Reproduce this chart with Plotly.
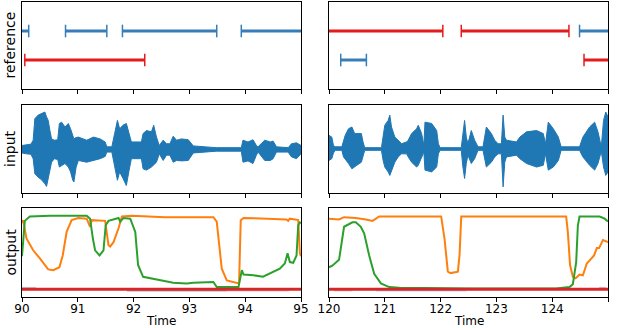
import plotly.graph_objects as go
from plotly.subplots import make_subplots

# --- reference segments (top row) ---
left_ref_start = [89.6, 90.78, 91.80, 93.93, 90.05]
left_ref_end = [90.12, 91.52, 93.49, 95.5, 92.20]
left_ref_row = [2, 2, 2, 2, 1]
left_ref_cls = ["b", "b", "b", "b", "r"]

right_ref_start = [119.5, 122.37, 124.49, 120.21, 124.57]
right_ref_end = [122.04, 124.30, 125.5, 120.67, 125.5]
right_ref_row = [2, 2, 2, 1, 1]
right_ref_cls = ["r", "r", "b", "b", "r"]

# --- input waveform envelope (middle row) ---
left_wave_t = [90.00, 90.08, 90.16, 90.20, 90.23, 90.29, 90.35, 90.41, 90.44, 90.47,
               90.50, 90.53, 90.58, 90.64, 90.67, 90.71, 90.77, 90.83, 90.87, 90.91,
               90.93, 90.97, 91.01, 91.16, 91.28, 91.40, 91.49, 91.52, 91.61, 91.66,
               91.71, 91.75, 91.81, 91.87, 91.92, 91.96, 92.14, 92.17, 92.23, 92.32,
               92.36, 92.41, 92.46, 92.53, 92.59, 92.65, 92.71, 92.77, 92.86, 92.98,
               93.07, 93.48, 93.93, 93.96, 94.05, 94.14, 94.20, 94.23, 94.35, 94.45,
               94.50, 94.56, 94.77, 94.83, 94.92, 95.00]
left_wave_up = [0.08, 0.10, 0.11, 0.20, 0.69, 0.77, 0.80, 0.84, 0.73, 0.65,
                0.42, 0.23, 0.20, 0.21, 0.58, 0.61, 0.50, 0.58, 0.46, 0.27,
                0.23, 0.26, 0.27, 0.20, 0.27, 0.23, 0.16, 0.05, 0.05, 0.35,
                0.65, 0.46, 0.54, 0.58, 0.35, 0.16, 0.16, 0.35, 0.42, 0.39,
                0.54, 0.27, 0.08, 0.20, 0.12, 0.12, 0.29, 0.20, 0.23, 0.21,
                0.07, 0.03, 0.03, 0.20, 0.16, 0.21, 0.08, 0.05, 0.20, 0.16,
                0.18, 0.05, 0.03, 0.12, 0.14, 0.08]
left_wave_lo = [-0.09, -0.11, -0.12, -0.22, -0.56, -0.64, -0.70, -0.79, -0.85, -0.67,
                -0.48, -0.30, -0.22, -0.24, -0.41, -0.37, -0.33, -0.41, -0.52, -0.71,
                -0.75, -0.41, -0.26, -0.30, -0.26, -0.22, -0.17, -0.07, -0.07, -0.41,
                -0.71, -0.52, -0.67, -0.83, -0.48, -0.22, -0.22, -0.45, -0.48, -0.41,
                -0.37, -0.30, -0.11, -0.26, -0.14, -0.14, -0.30, -0.26, -0.27, -0.26,
                -0.09, -0.05, -0.05, -0.30, -0.27, -0.33, -0.14, -0.07, -0.26, -0.26,
                -0.22, -0.07, -0.07, -0.18, -0.22, -0.11]

right_wave_t = [120.00, 120.05, 120.08, 120.11, 120.23, 120.26, 120.29, 120.35, 120.41, 120.46,
                120.50, 120.58, 120.61, 120.64, 120.94, 120.97, 121.00, 121.06, 121.09, 121.12,
                121.18, 121.24, 121.30, 121.39, 121.42, 121.48, 121.57, 121.60, 121.66, 121.70,
                121.72, 121.84, 121.93, 121.96, 121.99, 122.37, 122.40, 122.43, 122.46, 122.49,
                122.55, 122.61, 122.67, 122.76, 122.82, 122.91, 122.97, 123.03, 123.09, 123.12,
                123.15, 123.18, 123.36, 123.42, 123.54, 123.72, 123.84, 123.88, 123.93, 124.02,
                124.11, 124.16, 124.49, 124.55, 124.67, 124.76, 124.82, 124.88, 124.92, 124.96,
                125.00]
right_wave_up = [0.31, 0.27, 0.08, 0.05, 0.05, 0.20, 0.31, 0.46, 0.50, 0.35,
                 0.35, 0.35, 0.16, 0.03, 0.03, 0.35, 0.54, 0.65, 0.77, 0.50,
                 0.27, 0.20, 0.12, 0.16, 0.20, 0.35, 0.46, 0.54, 0.35, 0.08,
                 0.61, 0.58, 0.42, 0.12, 0.03, 0.03, 0.42, 0.65, 0.27, 0.12,
                 0.42, 0.20, 0.05, 0.05, 0.50, 0.35, 0.20, 0.12, 0.12, 0.77,
                 0.27, 0.20, 0.16, 0.27, 0.39, 0.42, 0.35, 0.12, 0.61, 0.46,
                 0.27, 0.05, 0.05, 0.27, 0.50, 0.61, 0.39, 0.05, 0.65, 0.84,
                 0.73]
right_wave_lo = [-0.26, -0.22, -0.09, -0.03, -0.03, -0.18, -0.22, -0.33, -0.45, -0.41,
                 -0.37, -0.30, -0.14, -0.03, -0.03, -0.26, -0.41, -0.52, -0.60, -0.52,
                 -0.30, -0.18, -0.11, -0.11, -0.18, -0.30, -0.41, -0.37, -0.18, -0.07,
                 -0.48, -0.52, -0.41, -0.11, -0.03, -0.03, -0.41, -0.67, -0.33, -0.14,
                 -0.33, -0.22, -0.03, -0.03, -0.41, -0.30, -0.18, -0.11, -0.11, -0.86,
                 -0.30, -0.18, -0.14, -0.22, -0.33, -0.41, -0.37, -0.11, -0.48, -0.41,
                 -0.26, -0.03, -0.03, -0.18, -0.37, -0.48, -0.33, -0.05, -0.41, -0.60,
                 -0.52]

# --- output curves (bottom row) ---
left_orange_t = [90.00, 90.02, 90.08, 90.20, 90.32, 90.47, 90.56, 90.67, 90.73, 90.80,
                 90.89, 91.01, 91.16, 91.22, 91.25, 91.49, 91.55, 91.58, 91.64, 91.73,
                 91.79, 91.97, 92.56, 93.43, 93.49, 93.58, 93.67, 93.85, 93.89, 93.92,
                 93.97, 94.74, 94.77, 94.80, 94.95, 94.98, 95.00]
left_orange_v = [0.90, 0.94, 0.69, 0.53, 0.42, 0.27, 0.26, 0.30, 0.46, 0.78,
                 0.94, 0.97, 0.96, 0.85, 0.94, 0.93, 0.60, 0.58, 0.64, 0.83,
                 0.99, 1.00, 0.98, 0.98, 0.92, 0.28, 0.12, 0.08, 0.08, 0.94,
                 0.97, 0.95, 0.93, 0.96, 0.94, 0.49, 0.45]
left_green_t = [90.00, 90.01, 90.05, 90.14, 90.50, 91.16, 91.22, 91.27, 91.31, 91.39,
                91.46, 91.50, 91.55, 91.73, 91.76, 91.82, 91.94, 92.03, 92.08, 92.17,
                92.35, 92.47, 92.71, 92.95, 93.07, 93.43, 93.49, 93.88, 93.94, 93.97,
                94.15, 94.32, 94.44, 94.62, 94.71, 94.76, 94.80, 94.86, 94.92, 94.95,
                94.98, 95.00]
left_green_v = [0.45, 0.56, 0.93, 0.99, 1.00, 1.00, 0.96, 0.69, 0.53, 0.46,
                0.53, 0.87, 0.93, 0.97, 0.92, 0.97, 0.96, 0.78, 0.33, 0.17,
                0.14, 0.13, 0.09, 0.08, 0.09, 0.10, 0.03, 0.03, 0.26, 0.20,
                0.19, 0.17, 0.21, 0.28, 0.35, 0.49, 0.37, 0.36, 0.46, 0.87,
                0.91, 0.90]
right_orange_t = [120.00, 120.18, 120.27, 120.48, 120.66, 120.78, 120.90, 122.01, 122.07, 122.13,
                  122.18, 122.31, 122.34, 122.37, 124.25, 124.28, 124.32, 124.37, 124.42, 124.49,
                  124.55, 124.62, 124.68, 124.75, 124.80, 124.84, 124.91, 124.97, 125.00]
right_orange_v = [0.96, 0.95, 0.98, 0.97, 0.95, 0.93, 0.99, 0.99, 0.69, 0.24,
                  0.22, 0.24, 0.47, 0.99, 0.99, 0.78, 0.33, 0.17, 0.15, 0.20,
                  0.19, 0.35, 0.40, 0.46, 0.56, 0.56, 0.67, 0.65, 0.64]
right_green_t = [120.00, 120.06, 120.18, 120.23, 120.27, 120.42, 120.48, 120.57, 120.63, 120.72,
                 120.81, 120.93, 121.08, 121.26, 122.50, 124.07, 124.31, 124.37, 124.43, 124.46,
                 124.49, 124.67, 124.85, 124.94, 125.00]
right_green_v = [0.30, 0.32, 0.40, 0.69, 0.85, 0.91, 0.91, 0.85, 0.76, 0.46,
                 0.21, 0.08, 0.03, 0.02, 0.01, 0.01, 0.03, 0.07, 0.37, 0.87,
                 0.99, 0.99, 0.99, 0.96, 0.92]

# faint bands just around zero
left_faint_blue = [(90.00, 90.25, 0.02), (91.88, 93.67, -0.015)]
left_faint_red = [(91.88, 94.78, -0.015)]
right_faint_blue = [(120.84, 122.46, -0.015), (124.84, 124.96, 0.02)]
right_faint_red = [(120.09, 120.42, -0.015)]

SEG_COLORS = {"b": "#377eb8", "r": "#e41a1c"}
BLUE, ORANGE, GREEN, RED = "#1f77b4", "#ff7f0e", "#2ca02c", "#d62728"

fig = make_subplots(rows=3, cols=2)


def add_segments(col, starts, ends, rows, classes):
    for s, e, r, c in zip(starts, ends, rows, classes):
        fig.add_trace(go.Scatter(
            x=[s, e], y=[r, r], mode="lines+markers",
            line=dict(color=SEG_COLORS[c], width=3),
            marker=dict(symbol="line-ns", size=9,
                        line=dict(width=1.5, color=SEG_COLORS[c])),
            showlegend=False), row=1, col=col)


def add_wave(col, t, up, lo):
    fig.add_trace(go.Scatter(
        x=t + t[::-1], y=up + lo[::-1], mode="lines", fill="toself",
        fillcolor=BLUE, line=dict(color=BLUE, width=1),
        showlegend=False), row=2, col=col)


def add_outputs(col, ot, ov, gt, gv, fblue, fred, x0, x1):
    for s, e, v in fblue:
        fig.add_trace(go.Scatter(x=[s, e], y=[v, v], mode="lines",
                                 line=dict(color="rgba(31,119,180,0.3)", width=2),
                                 showlegend=False), row=3, col=col)
    for s, e, v in fred:
        fig.add_trace(go.Scatter(x=[s, e], y=[v, v], mode="lines",
                                 line=dict(color="rgba(214,39,40,0.3)", width=2),
                                 showlegend=False), row=3, col=col)
    fig.add_trace(go.Scatter(x=ot, y=ov, mode="lines",
                             line=dict(color=ORANGE, width=2), showlegend=False),
                  row=3, col=col)
    fig.add_trace(go.Scatter(x=gt, y=gv, mode="lines",
                             line=dict(color=GREEN, width=2), showlegend=False),
                  row=3, col=col)
    fig.add_trace(go.Scatter(x=[x0, x1], y=[0, 0], mode="lines",
                             line=dict(color=RED, width=3), showlegend=False),
                  row=3, col=col)


add_segments(1, left_ref_start, left_ref_end, left_ref_row, left_ref_cls)
add_segments(2, right_ref_start, right_ref_end, right_ref_row, right_ref_cls)
add_wave(1, left_wave_t, left_wave_up, left_wave_lo)
add_wave(2, right_wave_t, right_wave_up, right_wave_lo)
add_outputs(1, left_orange_t, left_orange_v, left_green_t, left_green_v,
            left_faint_blue, left_faint_red, 90, 95)
add_outputs(2, right_orange_t, right_orange_v, right_green_t, right_green_v,
            right_faint_blue, right_faint_red, 120, 125)

W, H = 618, 328
xdom = [[22 / W, 301 / W], [329 / W, 608 / W]]
ydom = [[1 - 89 / H, 1 - 2 / H], [1 - 193 / H, 1 - 105 / H], [1 - 297 / H, 1 - 208 / H]]
yranges = [[0, 3], [-1, 1], [-0.105, 1.105]]
xranges = [[90, 95], [120, 125]]

axis_style = dict(showline=True, linecolor="black", linewidth=1, mirror=True,
                  showgrid=False, zeroline=False)

for r in range(3):
    for c in range(2):
        fig.update_xaxes(domain=xdom[c], range=xranges[c], dtick=1,
                         ticks="outside", ticklen=4, tickcolor="black",
                         showticklabels=(r == 2), automargin=False,
                         tickfont=dict(size=12), ticklabelstandoff=-3,
                         row=r + 1, col=c + 1, **axis_style)
        fig.update_yaxes(domain=ydom[r], range=yranges[r], showticklabels=False,
                         ticks="", automargin=False, row=r + 1, col=c + 1, **axis_style)

# y titles on the left, "Time" under each bottom panel
for label, yc in [("reference", 45.5), ("input", 149), ("output", 252.5)]:
    fig.add_annotation(text=label, xref="paper", yref="paper", x=10 / W, y=1 - yc / H,
                       textangle=-90, showarrow=False, font=dict(size=14),
                       xanchor="center", yanchor="middle")
for c in range(2):
    fig.add_annotation(text="Time", xref="paper", yref="paper",
                       x=sum(xdom[c]) / 2, y=1 - 321 / H, showarrow=False,
                       font=dict(size=12), xanchor="center", yanchor="middle")

fig.update_layout(
    width=W, height=H,
    margin=dict(l=0, r=0, t=0, b=0),
    plot_bgcolor="white", paper_bgcolor="white",
    font=dict(family="DejaVu Sans", color="black"),
)

fig.write_html("out.html", config={"displayModeBar": False},
               post_script="document.body.style.margin='0';")
